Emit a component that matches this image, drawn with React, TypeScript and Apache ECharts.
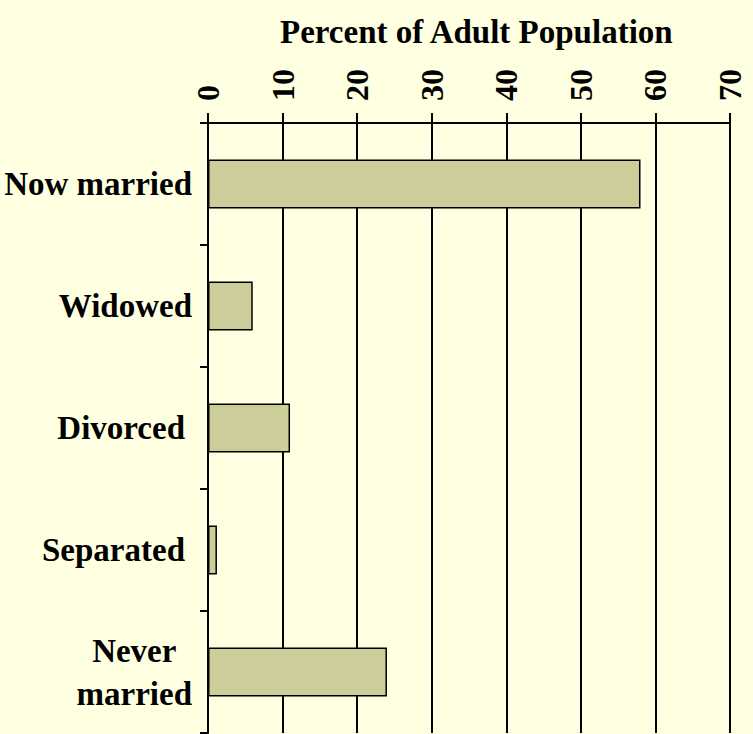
import React, { useEffect, useRef } from "react";
import * as echarts from "echarts";

const categories = ["Now married", "Widowed", "Divorced", "Separated", "Never married"];
const values = [58, 6, 11, 1.2, 24];
const xTicks = { min: 0, max: 70, interval: 10 };
const titleText = "Percent of Adult Population";

const FONT = "'Liberation Serif', 'Times New Roman', serif";

export default function App() {
  const ref = useRef<HTMLDivElement>(null);
  useEffect(() => {
    if (!ref.current) return;
    const chart = echarts.init(ref.current, undefined, { renderer: "svg" });
    chart.setOption({
      animation: false,
      backgroundColor: "#FFFFE2",
      title: {
        text: titleText,
        left: 275,
        top: 10,
        textStyle: { fontFamily: FONT, fontWeight: "bold", fontSize: 33, color: "#000" },
      },
      grid: { left: 208, right: 23, top: 123, bottom: 1, containLabel: false },
      xAxis: {
        type: "value",
        position: "top",
        min: xTicks.min,
        max: xTicks.max,
        interval: xTicks.interval,
        axisLine: { show: true, lineStyle: { color: "#000", width: 2 } },
        axisTick: { show: true, inside: false, length: 10, lineStyle: { color: "#000", width: 2 } },
        splitLine: { show: true, lineStyle: { color: "#000", width: 2 } },
        axisLabel: {
          rotate: -90,
          margin: 22,
          fontFamily: FONT,
          fontWeight: "bold",
          fontSize: 32,
          color: "#000",
        },
      },
      yAxis: {
        type: "category",
        inverse: true,
        data: categories,
        axisLine: { show: true, lineStyle: { color: "#000", width: 2 } },
        axisTick: { show: true, inside: false, length: 8, lineStyle: { color: "#000", width: 2 } },
        axisLabel: {
          margin: 16,
          color: "#000",
          fontFamily: FONT,
          fontWeight: "bold",
          fontSize: 33,
          formatter: (v: string) =>
            v === "Never married"
              ? "{c|Never}\n{c|married}"
              : v === "Divorced" || v === "Separated"
              ? "{p|" + v + "}"
              : "{r|" + v + "}",
          rich: {
            c: { align: "center", fontFamily: FONT, fontWeight: "bold", fontSize: 33, color: "#000", lineHeight: 43 },
            r: { fontFamily: FONT, fontWeight: "bold", fontSize: 33, color: "#000" },
            p: { fontFamily: FONT, fontWeight: "bold", fontSize: 33, color: "#000", padding: [0, 7, 0, 0] },
          },
        },
      },
      series: [
        {
          type: "bar",
          data: values,
          barWidth: "40%",
          itemStyle: { color: "#CDCD9A", borderColor: "#000", borderWidth: 1.5 },
        },
      ],
    });
    return () => chart.dispose();
  }, []);
  return (
    <div
      ref={ref}
      style={{ position: "absolute", left: 0, top: 0, width: 753, height: 734 }}
    />
  );
}
